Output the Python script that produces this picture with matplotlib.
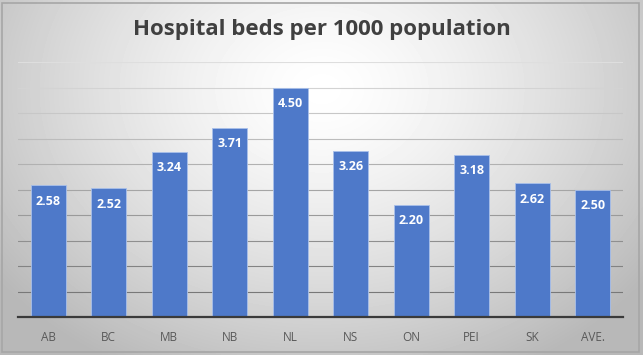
import numpy as np
import matplotlib
matplotlib.use("Agg")
import matplotlib.pyplot as plt
from matplotlib.patches import Rectangle

# data
provinces = ["AB", "BC", "MB", "NB", "NL", "NS", "ON", "PEI", "SK", "AVE."]
beds = [2.58, 2.52, 3.24, 3.71, 4.50, 3.26, 2.20, 3.18, 2.62, 2.50]
title = "Hospital beds per 1000 population"

W, H = 643, 355
fig = plt.figure(figsize=(W / 100, H / 100), dpi=100)

# radial grey gradient behind everything
bg = fig.add_axes([0, 0, 1, 1], zorder=0)
yy, xx = np.mgrid[0:H, 0:W]
r = np.sqrt(((xx - W * 0.5) / (W * 0.6)) ** 2 + ((yy - H * 0.25) / (H * 0.85)) ** 2)
shade = np.clip(1.0 - 0.26 * r ** 1.4, 0.72, 1.0)
bg.imshow(shade, cmap="gray", vmin=0, vmax=1, aspect="auto", extent=[0, 1, 0, 1])
bg.add_patch(Rectangle((0.003, 0.008), 0.991, 0.984, transform=bg.transAxes,
                       fill=False, edgecolor="#a6a6a6", lw=1.2))
bg.set_axis_off()

ax = fig.add_axes([18 / W, 1 - 317 / H, (623 - 18) / W, (317 - 62) / H], zorder=1)
ax.patch.set_alpha(0)
x = np.arange(len(provinces))

# gridlines fade from dark near the axis to light near the top
levels = np.arange(0.5, 5.01, 0.5)
for lv in levels:
    g = 0.47 + 0.4 * (lv - 0.5) / 4.5
    ax.axhline(lv, color=(g, g, g), lw=0.8, zorder=1)

bars = ax.bar(x, beds, width=0.58, color="#4e79c9", edgecolor="#a9c0ea",
              linewidth=0.6, zorder=3)
for b, v in zip(bars, beds):
    ax.text(b.get_x() + b.get_width() / 2, v - 0.31, f"{v:.2f}", ha="center", va="center",
            color="white", fontsize=9, fontweight="bold", family="Open Sans", zorder=4)

ax.set_ylim(0, 5)
ax.set_xlim(-0.5, len(provinces) - 0.5)
ax.set_yticks([])
ax.tick_params(axis="x", length=0, pad=10, labelcolor="#595959", labelsize=8.5)
ax.set_xticks(x)
ax.set_xticklabels(provinces, family="Open Sans")
for s in ["top", "right", "left"]:
    ax.spines[s].set_visible(False)
ax.spines["bottom"].set_color("#3a3a3a")
ax.spines["bottom"].set_linewidth(1.6)
ax.spines["bottom"].set_zorder(5)

fig.text(0.5, 1 - 30 / H, title, ha="center", va="center", fontsize=16,
         fontweight="bold", color="#404040", family="Open Sans")

fig.savefig("out.png", dpi=100)
